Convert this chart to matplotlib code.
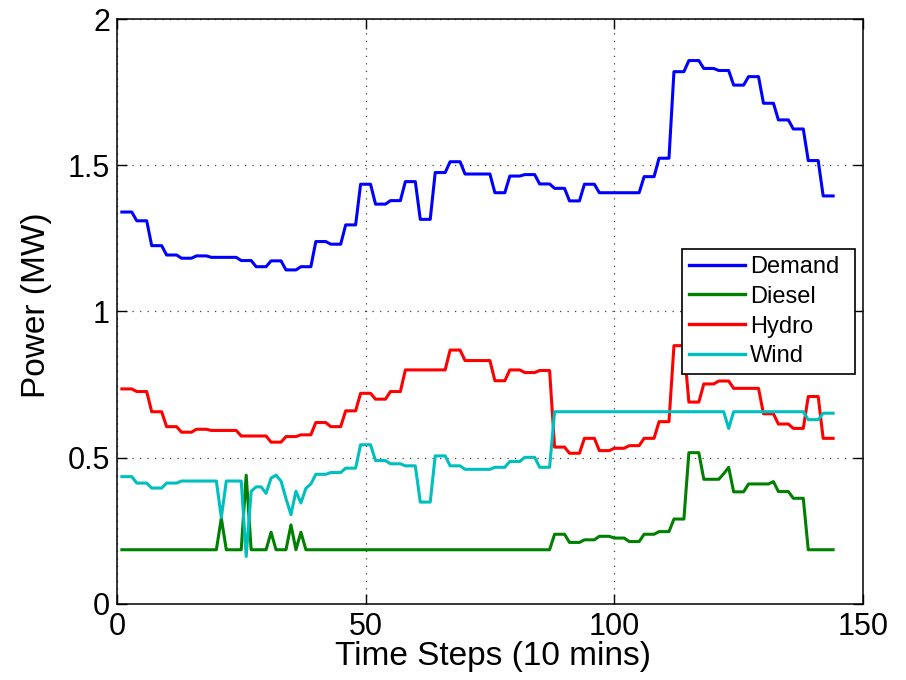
import numpy as np
import matplotlib
matplotlib.use("Agg")
import matplotlib.pyplot as plt

plt.rcParams['font.family'] = ['Liberation Sans', 'DejaVu Sans']

# Power profiles over one day (144 ten-minute steps), MW
demand = [
    1.34, 1.34, 1.34, 1.31, 1.31, 1.31, 1.225, 1.225, 1.225, 1.193, 1.193, 1.193,
    1.182, 1.182, 1.182, 1.19, 1.19, 1.19, 1.185, 1.185, 1.185, 1.185, 1.185, 1.185,
    1.174, 1.174, 1.174, 1.153, 1.153, 1.153, 1.173, 1.173, 1.173, 1.142, 1.142, 1.142,
    1.153, 1.153, 1.153, 1.239, 1.239, 1.239, 1.23, 1.23, 1.23, 1.296, 1.296, 1.296,
    1.435, 1.435, 1.435, 1.367, 1.367, 1.367, 1.379, 1.379, 1.379, 1.444, 1.444, 1.444,
    1.315, 1.315, 1.315, 1.475, 1.475, 1.475, 1.512, 1.512, 1.512, 1.47, 1.47, 1.47,
    1.47, 1.47, 1.47, 1.406, 1.406, 1.406, 1.463, 1.463, 1.463, 1.468, 1.468, 1.468,
    1.436, 1.436, 1.436, 1.421, 1.421, 1.421, 1.378, 1.378, 1.378, 1.435, 1.435, 1.435,
    1.406, 1.406, 1.406, 1.406, 1.406, 1.406, 1.406, 1.406, 1.406, 1.461, 1.461, 1.461,
    1.524, 1.524, 1.524, 1.82, 1.82, 1.82, 1.858, 1.858, 1.858, 1.831, 1.831, 1.831,
    1.824, 1.824, 1.824, 1.774, 1.774, 1.774, 1.803, 1.803, 1.803, 1.712, 1.712, 1.712,
    1.655, 1.655, 1.655, 1.624, 1.624, 1.624, 1.516, 1.516, 1.516, 1.395, 1.395, 1.395,
]

diesel = [
    0.185, 0.185, 0.185, 0.185, 0.185, 0.185, 0.185, 0.185, 0.185, 0.185, 0.185, 0.185,
    0.185, 0.185, 0.185, 0.185, 0.185, 0.185, 0.185, 0.185, 0.293, 0.185, 0.185, 0.185,
    0.185, 0.44, 0.185, 0.185, 0.185, 0.185, 0.245, 0.185, 0.185, 0.185, 0.27, 0.185,
    0.245, 0.185, 0.185, 0.185, 0.185, 0.185, 0.185, 0.185, 0.185, 0.185, 0.185, 0.185,
    0.185, 0.185, 0.185, 0.185, 0.185, 0.185, 0.185, 0.185, 0.185, 0.185, 0.185, 0.185,
    0.185, 0.185, 0.185, 0.185, 0.185, 0.185, 0.185, 0.185, 0.185, 0.185, 0.185, 0.185,
    0.185, 0.185, 0.185, 0.185, 0.185, 0.185, 0.185, 0.185, 0.185, 0.185, 0.185, 0.185,
    0.185, 0.185, 0.185, 0.238, 0.238, 0.238, 0.21, 0.21, 0.21, 0.219, 0.219, 0.219,
    0.231, 0.231, 0.231, 0.225, 0.225, 0.225, 0.213, 0.213, 0.213, 0.238, 0.238, 0.238,
    0.247, 0.247, 0.247, 0.29, 0.29, 0.29, 0.517, 0.517, 0.517, 0.426, 0.426, 0.426,
    0.426, 0.445, 0.467, 0.383, 0.383, 0.383, 0.41, 0.41, 0.41, 0.41, 0.41, 0.418,
    0.384, 0.384, 0.384, 0.361, 0.361, 0.361, 0.185, 0.185, 0.185, 0.185, 0.185, 0.185,
]

hydro = [
    0.735, 0.735, 0.735, 0.726, 0.726, 0.726, 0.657, 0.657, 0.657, 0.606, 0.606, 0.606,
    0.587, 0.587, 0.587, 0.597, 0.597, 0.597, 0.593, 0.593, 0.593, 0.593, 0.593, 0.593,
    0.574, 0.574, 0.574, 0.574, 0.574, 0.574, 0.553, 0.553, 0.553, 0.572, 0.572, 0.572,
    0.578, 0.578, 0.578, 0.62, 0.62, 0.62, 0.606, 0.606, 0.606, 0.66, 0.66, 0.66,
    0.72, 0.72, 0.72, 0.70, 0.70, 0.70, 0.726, 0.726, 0.726, 0.80, 0.80, 0.80,
    0.80, 0.80, 0.80, 0.80, 0.80, 0.80, 0.868, 0.868, 0.868, 0.832, 0.832, 0.832,
    0.832, 0.832, 0.832, 0.763, 0.763, 0.763, 0.80, 0.80, 0.80, 0.791, 0.791, 0.791,
    0.798, 0.798, 0.798, 0.536, 0.536, 0.536, 0.515, 0.515, 0.515, 0.566, 0.566, 0.566,
    0.524, 0.524, 0.524, 0.532, 0.532, 0.532, 0.541, 0.541, 0.541, 0.566, 0.566, 0.566,
    0.623, 0.623, 0.623, 0.883, 0.883, 0.883, 0.69, 0.69, 0.69, 0.752, 0.752, 0.752,
    0.762, 0.762, 0.762, 0.737, 0.737, 0.737, 0.737, 0.737, 0.737, 0.65, 0.65, 0.65,
    0.615, 0.615, 0.615, 0.60, 0.60, 0.60, 0.709, 0.709, 0.709, 0.566, 0.566, 0.566,
]

wind = [
    0.435, 0.435, 0.435, 0.413, 0.413, 0.413, 0.396, 0.396, 0.396, 0.413, 0.413, 0.413,
    0.42, 0.42, 0.42, 0.42, 0.42, 0.42, 0.42, 0.42, 0.295, 0.42, 0.42, 0.42,
    0.42, 0.162, 0.385, 0.40, 0.40, 0.378, 0.43, 0.44, 0.42, 0.36, 0.305, 0.385,
    0.345, 0.395, 0.41, 0.443, 0.443, 0.443, 0.449, 0.449, 0.449, 0.464, 0.464, 0.464,
    0.544, 0.544, 0.544, 0.49, 0.49, 0.49, 0.479, 0.479, 0.479, 0.472, 0.472, 0.472,
    0.348, 0.348, 0.348, 0.506, 0.506, 0.506, 0.472, 0.472, 0.472, 0.46, 0.46, 0.46,
    0.46, 0.46, 0.46, 0.467, 0.467, 0.467, 0.487, 0.487, 0.487, 0.501, 0.501, 0.501,
    0.467, 0.467, 0.467, 0.657, 0.657, 0.657, 0.657, 0.657, 0.657, 0.657, 0.657, 0.657,
    0.657, 0.657, 0.657, 0.657, 0.657, 0.657, 0.657, 0.657, 0.657, 0.657, 0.657, 0.657,
    0.657, 0.657, 0.657, 0.657, 0.657, 0.657, 0.657, 0.657, 0.657, 0.657, 0.657, 0.657,
    0.657, 0.657, 0.60, 0.657, 0.657, 0.657, 0.657, 0.657, 0.657, 0.657, 0.657, 0.657,
    0.657, 0.657, 0.657, 0.657, 0.657, 0.657, 0.63, 0.63, 0.63, 0.652, 0.652, 0.652,
]

series_names = ["Demand", "Diesel", "Hydro", "Wind"]
series_colors = ["#0000ff", "#008000", "#ff0000", "#00bfbf"]
x_ticks = [0, 50, 100, 150]
x_tick_labels = ["0", "50", "100", "150"]
y_ticks = [0, 0.5, 1, 1.5, 2]
y_tick_labels = ["0", "0.5", "1", "1.5", "2"]

steps = np.arange(1, len(demand) + 1)

fig = plt.figure(figsize=(9.06, 6.8), dpi=100)
ax = fig.add_axes([0.129, 0.112, 0.8235, 0.860])

for name, color, values in zip(series_names, series_colors,
                               [demand, diesel, hydro, wind]):
    ax.plot(steps, values, color=color, linewidth=2.2, label=name,
            solid_joinstyle="round")

ax.set_xlim(0, 150)
ax.set_ylim(0, 2)
ax.set_xticks(x_ticks)
ax.set_xticklabels(x_tick_labels)
ax.set_yticks(y_ticks)
ax.set_yticklabels(y_tick_labels)

ax.grid(True, color="0.25", linestyle=(0, (1, 5)), linewidth=0.9)
ax.tick_params(direction="in", length=7, width=1.0, top=True, right=True,
               labelsize=22)
ax.tick_params(axis="x", pad=6)
ax.tick_params(axis="y", pad=5)
for spine in ax.spines.values():
    spine.set_linewidth(1.1)

ax.set_xlabel("Time Steps (10 mins)", fontsize=24)
ax.set_ylabel("Power (MW)", fontsize=24)
ax.xaxis.set_label_coords(0.504, -0.064)
ax.yaxis.set_label_coords(-0.087, 0.51)

leg = ax.legend(loc="upper left", bbox_to_anchor=(0.758, 0.30, 0.231, 0.307),
                mode="expand", fontsize=17, frameon=True, fancybox=False,
                framealpha=1.0, edgecolor="black", handlelength=2.35,
                handletextpad=0.22, labelspacing=0.33, borderpad=0.3,
                borderaxespad=0.0)
leg.get_frame().set_linewidth(1.2)
for line in leg.get_lines():
    line.set_linewidth(2.4)

fig.savefig("out.png", dpi=100)
